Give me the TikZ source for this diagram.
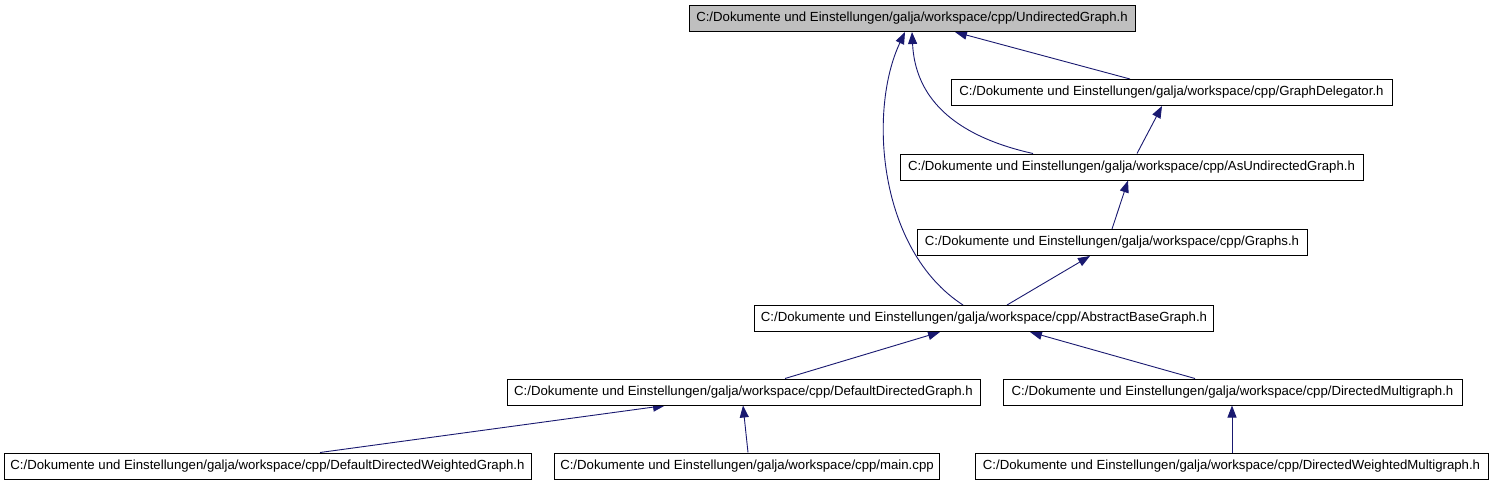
\documentclass[tikz,border=0pt]{standalone}
\usepackage{fontspec}
\setmainfont{Liberation Sans}
\usetikzlibrary{positioning,arrows.meta,backgrounds}
\definecolor{edgeblue}{RGB}{25,25,112}
\definecolor{rootgray}{RGB}{191,191,191}

\begin{document}
\begin{tikzpicture}[
  x=1pt, y=-1pt,
  every node/.style={font=\fontsize{13.2}{15}\selectfont},
  file/.style={draw, line width=1pt, fill=white, minimum height=26pt,
               minimum width=#1, inner xsep=6pt, inner ysep=0pt},
  root/.style={file=#1, fill=rootgray},
  dep/.style={<-, >={Triangle[length=12pt, width=9pt, fill=edgeblue]},
              draw=edgeblue, line width=0.9pt}]

\useasboundingbox (0,0) rectangle (1495,485);

%% Header nodes
\node[root=446pt] (undirected) at (912,18.5) {C:/Dokumente und Einstellungen/galja/workspace/cpp/UndirectedGraph.h};
\node[file=441pt] (delegator)  at (1171.5,92.5) {C:/Dokumente und Einstellungen/galja/workspace/cpp/GraphDelegator.h};
\node[file=463pt] (asundir)    at (1131.5,167) {C:/Dokumente und Einstellungen/galja/workspace/cpp/AsUndirectedGraph.h};
\node[file=390pt] (graphs)     at (1112,242.5) {C:/Dokumente und Einstellungen/galja/workspace/cpp/Graphs.h};
\node[file=456pt] (abstract)   at (984,318.5) {C:/Dokumente und Einstellungen/galja/workspace/cpp/AbstractBaseGraph.h};

%% Second level
\node[file=473pt] (defdir)     at (743.5,392) {C:/Dokumente und Einstellungen/galja/workspace/cpp/DefaultDirectedGraph.h};
\node[file=459pt] (dirmulti)   at (1232.5,392) {C:/Dokumente und Einstellungen/galja/workspace/cpp/DirectedMultigraph.h};

%% Bottom row
\node[file=527pt] (defweight)  at (267.5,466) {C:/Dokumente und Einstellungen/galja/workspace/cpp/DefaultDirectedWeightedGraph.h};
\node[file=382pt] (maincpp)    at (747,466) {C:/Dokumente und Einstellungen/galja/workspace/cpp/main.cpp};
\node[file=513pt] (weightmulti) at (1231.5,466) {C:/Dokumente und Einstellungen/galja/workspace/cpp/DirectedWeightedMultigraph.h};

%% Include edges
\begin{scope}[on background layer]
\draw[dep] (undirected.south -| 955,0) -- (delegator.north -| 1130,0);
\draw[dep] (undirected.south -| 912,0) .. controls (915,95) and (950,135) .. (asundir.north -| 1033,0);
\draw[dep] (undirected.south -| 905,0) .. controls (868,110) and (878,250) .. (abstract.north -| 963,0);
\draw[dep] (delegator.south -| 1162,0) -- (asundir.north -| 1137,0);
\draw[dep] (asundir.south -| 1128,0)   -- (graphs.north -| 1112,0);
\draw[dep] (graphs.south -| 1090,0)    -- (abstract.north -| 1007,0);
\draw[dep] (abstract.south -| 940,0)   -- (defdir.north -| 785,0);
\draw[dep] (abstract.south -| 1030,0)  -- (dirmulti.north -| 1195,0);
\draw[dep] (defdir.south -| 665,0)     -- (defweight.north -| 320,0);
\draw[dep] (defdir.south -| 743,0)     -- (maincpp.north -| 748,0);
\draw[dep] (dirmulti.south -| 1232,0)  -- (weightmulti.north -| 1232,0);
\end{scope}
\end{tikzpicture}
\end{document}
